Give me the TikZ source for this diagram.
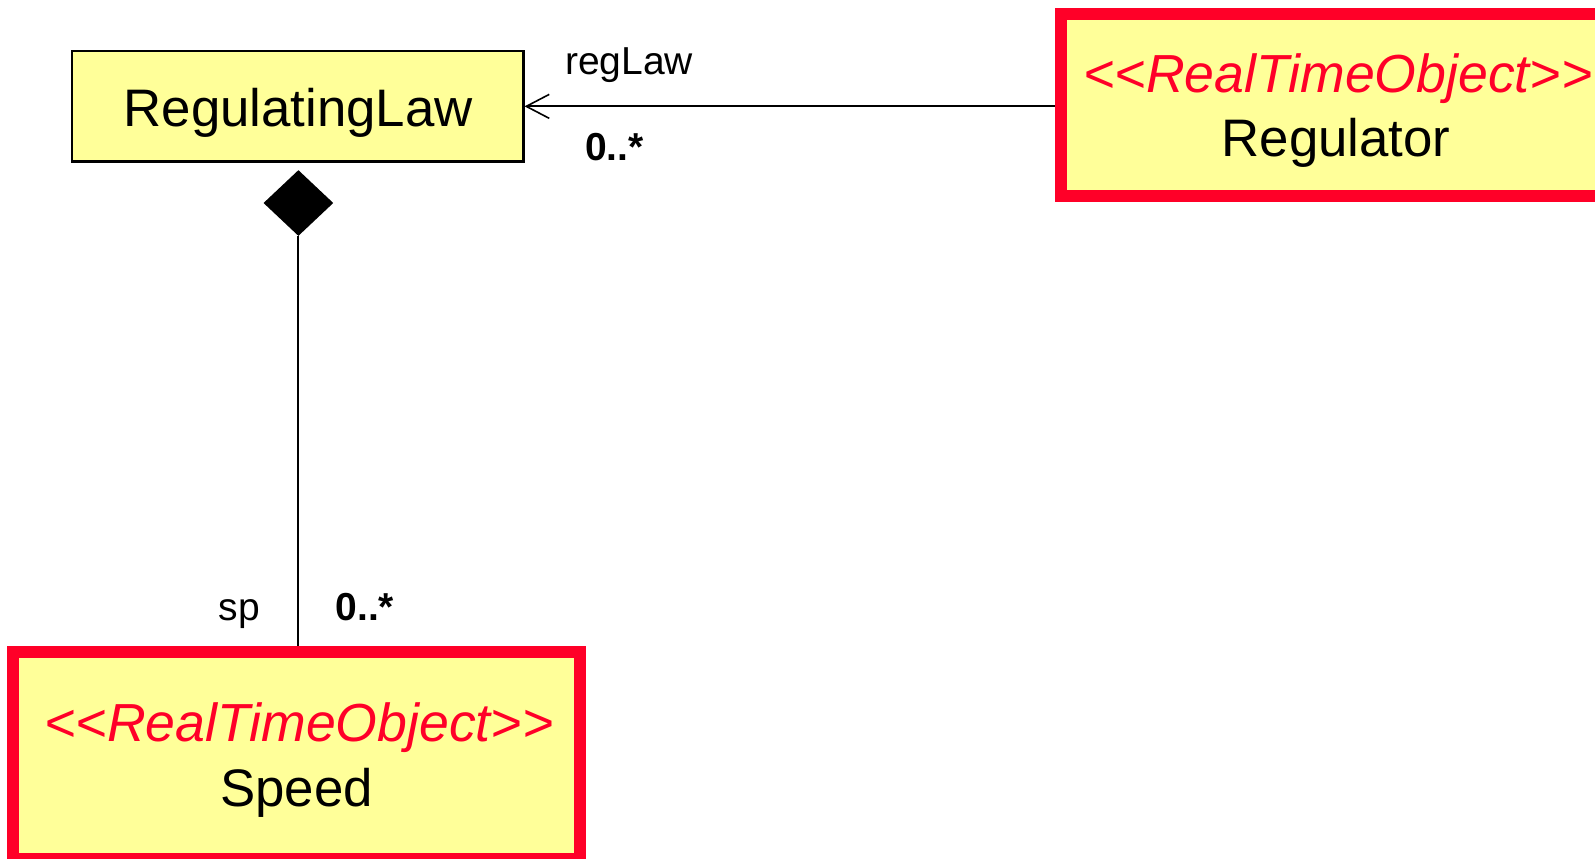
\documentclass[tikz,border=0pt]{standalone}
\usepackage{fontspec}
\newfontfamily\umlfont{Liberation Sans}
\usetikzlibrary{arrows.meta,shapes.geometric}
\definecolor{classfill}{RGB}{255,255,153}
\definecolor{rtred}{RGB}{255,0,40}
\begin{document}
\begin{tikzpicture}[x=0.5pt,y=-0.5pt,
  plainclass/.style={rectangle,draw=black,line width=1.2pt,fill=classfill,inner sep=0pt},
  rtclass/.style={rectangle,draw=rtred,line width=6pt,fill=classfill,inner sep=0pt},
  classname/.style={inner sep=0pt,font=\umlfont\fontsize{26.4}{31}\selectfont},
  stereo/.style={inner sep=0pt,text=rtred,font=\umlfont\itshape\fontsize{26.8}{31}\selectfont},
  rolelabel/.style={inner sep=0pt,font=\umlfont\fontsize{19.5}{23}\selectfont},
  multlabel/.style={inner sep=0pt,font=\umlfont\bfseries\fontsize{19.5}{23}\selectfont},
  assoc/.style={draw=black,line width=1pt},
  compdiamond/.style={diamond,fill=black,inner sep=0pt,minimum width=35pt,minimum height=33pt}]
\useasboundingbox (0,0) rectangle (1595,858);
\clip (0,0) rectangle (1595,858);

% classes
\node[plainclass,minimum width=225.8pt,minimum height=55.1pt] (reglaw) at (297.55,106.35) {};
\node[rtclass,minimum width=274.5pt,minimum height=91.1pt] (regulator) at (1335.5,104.6) {};
\node[rtclass,minimum width=283.7pt,minimum height=103.35pt] (speed) at (296.6,755.35) {};

% class names and stereotypes
\node[classname,anchor=base] (reglawname) at (298.2,126) {RegulatingLaw};
\node[stereo,anchor=base] (regstereo) at (1337.9,92) {<<RealTimeObject>>};
\node[classname,anchor=base] (regname) at (1336,156) {Regulator};
\node[stereo,anchor=base] (spstereo) at (298.9,741.7) {<<RealTimeObject>>};
\node[classname,anchor=base] (spname) at (296.6,806) {Speed};

% directed association Regulator -> RegulatingLaw
\draw[assoc,-{Straight Barb[length=11.5pt,width=12pt,line width=0.8pt]}]
  (regulator.west |- reglaw.east) -- (reglaw.east);
\node[rolelabel,anchor=base west] (reglawrole) at (564.7,74) {regLaw};
\node[multlabel,anchor=base west] (reglawmult) at (584.8,160) {0..*};

% composition RegulatingLaw <>-- Speed
\node[compdiamond] (comp) at (298.4,203) {};
\draw[assoc] (comp.south) -- (comp.south |- speed.north);
\node[rolelabel,anchor=base east] (sprole) at (260.2,620) {sp};
\node[multlabel,anchor=base west] (spmult) at (335.2,620) {0..*};
\end{tikzpicture}
\end{document}
